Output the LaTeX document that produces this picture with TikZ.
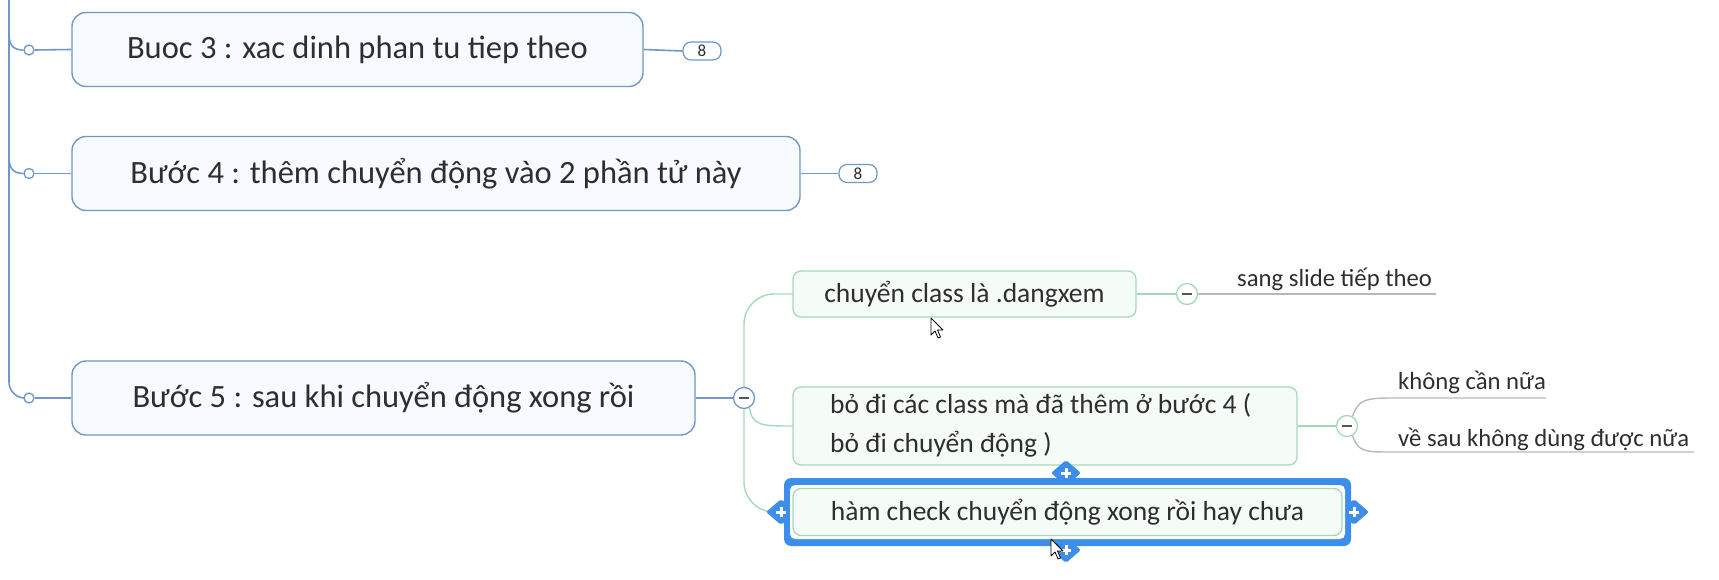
\documentclass[tikz,border=0pt]{standalone}
\usepackage{fontspec}
\setmainfont{Carlito}
\usetikzlibrary{shapes.geometric}
\definecolor{tblue}{HTML}{7097C8}
\definecolor{bfill}{HTML}{F7FBFF}
\definecolor{gline}{HTML}{A6D8B8}
\definecolor{gfill}{HTML}{F5FBF7}
\definecolor{greyl}{HTML}{B8B8B8}
\definecolor{selblue}{HTML}{3D8EEA}
\definecolor{txt}{HTML}{2E2E2E}
\definecolor{minusc}{HTML}{555555}
\begin{document}
\begin{tikzpicture}[x=1pt,y=-1pt,
  trunk/.style={draw=tblue, line width=1.6pt},
  mainbox/.style={draw=tblue, line width=1.4pt, fill=bfill, rounded corners=14pt, minimum height=74pt, inner sep=0pt, text=txt, font=\fontsize{32.5}{38}\selectfont},
  greenbox/.style={draw=gline, line width=1.3pt, fill=gfill, rounded corners=8pt, inner sep=0pt, text=txt, font=\fontsize{27.5}{39}\selectfont},
  gconn/.style={draw=gline, line width=1.4pt},
  greyconn/.style={draw=greyl, line width=1.4pt},
  greytxt/.style={text=txt, font=\fontsize{24.7}{30}\selectfont, inner sep=0pt},
  dotnode/.style={circle, draw=tblue, fill=white, line width=1.3pt, minimum size=10pt, inner sep=0pt},
  badge/.style={draw=tblue, fill=white, line width=1.2pt, rounded corners=8pt, minimum width=38pt, minimum height=18pt, inner sep=0pt, text=txt, font=\fontsize{17}{17}\selectfont},
  minusnode/.style={circle, draw=#1, fill=white, line width=1.3pt, minimum size=21pt, inner sep=0pt},
  minusline/.style={draw=minusc, line width=2pt},
  handle/.style={diamond, fill=selblue, minimum width=30pt, minimum height=26pt, inner sep=0pt, rounded corners=2pt},
  plusline/.style={draw=white, line width=3pt},
  cursorshape/.style={fill=white, draw=black, line width=0.8pt, line join=round}
]
\useasboundingbox (0,0) rectangle (1719,580);

% coordinates on the trunk
\coordinate (ttop) at (9,0);
\coordinate (t3) at (9,34);
\coordinate (t4) at (9,157);

% trunk dots
\node[dotnode] (d3) at (29,50) {};
\node[dotnode] (d4) at (29,173.5) {};
\node[dotnode] (d5) at (29,398) {};

\draw[trunk, rounded corners=16pt] (ttop) |- (d5.west);
\draw[trunk] (t3) .. controls (9,46) and (14,50) .. (d3.west);
\draw[trunk] (t4) .. controls (9,169) and (14,173.5) .. (d4.west);

% main boxes
\node[mainbox, minimum width=571pt] (b3) at (357.5,49.5) {Buoc 3 : xac dinh phan tu tiep theo};
\node[mainbox, minimum width=728pt] (b4) at (436,173.5) {Bước 4 : thêm chuyển động vào 2 phần tử này};
\node[mainbox, minimum width=623pt] (b5) at (383.5,398) {Bước 5 : sau khi chuyển động xong rồi};

\draw[trunk] (d3.east) -- (b3.west);
\draw[trunk] (d4.east) -- (b4.west);
\draw[trunk] (d5.east) -- (b5.west);

% badges
\node[badge] (c3) at (702,51) {8};
\node[badge] (c4) at (858,173.5) {8};
\draw[trunk] (b3.east) -- (c3.west);
\draw[trunk] (b4.east) -- (c4.west);

% minus circle of step 5
\node[minusnode=tblue] (m5) at (744,398) {};
\draw[trunk] (b5.east) -- (m5.west);

% green connectors
\coordinate (g3w) at (793,512);
\draw[gconn, rounded corners=30pt] (m5.north) |- (793,294) coordinate (g1w);
\draw[gconn, rounded corners=30pt] (m5.south) |- (g3w);
\draw[gconn] (m5.-60) .. controls (752,426) and (762,426) .. (793,426) coordinate (g2w);

\node[greenbox, minimum width=343pt, minimum height=46pt] (g1) at (964.5,294) {chuyển class là .dangxem};
\node[greenbox, minimum width=504pt, minimum height=78pt] (g2) at (1045,426) {};
\node[anchor=west, align=left, inner sep=0pt, text=txt, font=\fontsize{27.5}{39}\selectfont] (g2t) at (830,425) {bỏ đi các class mà đã thêm ở bước 4 (\\bỏ đi chuyển động )};

% selection frame
\node[fill=selblue, rounded corners=7pt, minimum width=567pt, minimum height=68pt, inner sep=0pt] (sel) at (1067.5,512) {};
\node[handle] (ht) at (1066,473) {};
\node[handle] (hb) at (1066,550) {};
\node[handle] (hl) at (781,512) {};
\node[handle] (hr) at (1354,512) {};
\foreach \h in {ht,hb,hl,hr}{
  \draw[plusline] ([xshift=-5pt]\h.center) -- ([xshift=5pt]\h.center);
  \draw[plusline] ([yshift=-5pt]\h.center) -- ([yshift=5pt]\h.center);
}
\node[fill=white, rounded corners=5pt, minimum width=555pt, minimum height=54pt, inner sep=0pt] (selin) at (1067.5,512) {};
\node[greenbox, minimum width=549pt, minimum height=47pt] (g3) at (1067.5,512) {hàm check chuyển động xong rồi hay chưa};

% minus circles of green boxes
\node[minusnode=gline] (m1) at (1187,294) {};
\node[minusnode=gline] (m2) at (1347,426) {};
\draw[gconn] (g1.east) -- (m1.west);
\draw[gconn] (g2.east) -- (m2.west);
\foreach \m in {m5,m1,m2}{
  \draw[minusline] ([xshift=-5pt]\m.center) -- ([xshift=5pt]\m.center);
}

% grey children
\coordinate (u1) at (1436,294);
\coordinate (u2) at (1546,398);
\coordinate (u3) at (1694,452);
\draw[greyconn] (m1.east) -- (u1);
\draw[greyconn] (m2.60) .. controls (1358,400) and (1365,398) .. (1392,398) -- (u2);
\draw[greyconn] (m2.-60) .. controls (1358,452) and (1365,452) .. (1392,452) -- (u3);
\node[greytxt, anchor=base west] (s1) at (1237,286) {sang slide tiếp theo};
\node[greytxt, anchor=base west] (s2) at (1398,389) {không cần nữa};
\node[greytxt, anchor=base west] (s3) at (1398,446) {về sau không dùng được nữa};

% mouse cursors
\draw[cursorshape] (931,318) -- ++(0,17) -- ++(4,-4) -- ++(3,7) -- ++(2.5,-1) -- ++(-3,-7) -- ++(5.5,0) -- cycle;
\draw[cursorshape] (1051,539) -- ++(0,17) -- ++(4,-4) -- ++(3,7) -- ++(2.5,-1) -- ++(-3,-7) -- ++(5.5,0) -- cycle;
\end{tikzpicture}
\end{document}
